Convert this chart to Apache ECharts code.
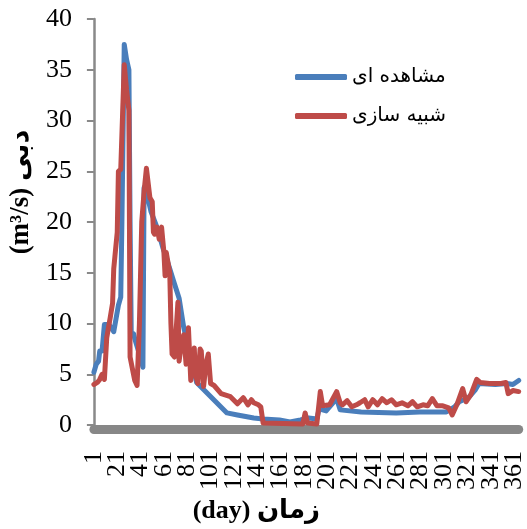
<!DOCTYPE html>
<html>
<head>
<meta charset="utf-8">
<script src="https://cdn.jsdelivr.net/npm/echarts@6/dist/echarts.min.js"></script>
<style>html,body{margin:0;padding:0;background:#fff;width:100%;height:100%;overflow:hidden}#c{width:100vw;height:100vh}</style>
</head>
<body>
<div id="c"></div>
<script>
// categories: days 1..365
const days = [];
for (let d = 1; d <= 365; d++) days.push(String(d));
// tick labels shown on the day axis
const dayLabels = ['1','21','41','61','81','101','121','141','161','181','201','221','241','261','281','301','321','341','361'];

const obsDays = [1,3,5,6,8,10,14,18,20,22,24,25,27,29,31,32,33,35,36,40,43,44,46,50,55,60,63,69,74,78,89,115,124,138,146,160,169,178,185,192,194,200,209,212,230,260,280,303,310,314,322,328,331,345,355,360,365];
const obsVals = [5.2,6.0,6.3,7.3,7.3,9.9,9.9,9.2,10.5,11.8,12.6,20,37.5,36,35.0,20,9.1,9.0,8.5,7,5.7,23.4,23,21,19.5,17.5,16.5,14.3,12.5,9.6,4.2,1.2,1.0,0.7,0.6,0.5,0.3,0.5,0.7,0.6,1.6,1.4,2.6,1.5,1.3,1.2,1.3,1.3,1.8,2.3,2.7,3.5,4.1,4.0,4.1,4.0,4.4];

// simulated (شبیه سازی)
const simDays = [1,4,6,8,10,12,15,17,18,19,21,22,24,27,29,31,32,36,38,40,42,44,46,49,51,52,53,55,57,59,61,62,63,66,67,68,70,73,74,76,78,80,82,84,87,88,90,92,93,95,97,99,101,104,110,118,124,129,133,136,138,142,144,146,180,182,184,192,195,197,203,209,212,214,218,222,226,229,233,236,240,244,248,252,256,260,265,270,274,278,283,287,291,295,300,305,308,312,317,320,324,329,332,340,350,354,356,360,365];
const simVals = [4.0,4.2,4.5,5.0,4.5,8.6,10.6,12,15.4,16.6,19,25,25.2,35.5,33,31,6.7,4.4,3.9,10,20,23,25.3,22.4,22,19,18.8,19.5,18.3,19.5,17,14.7,17,15,10,7,6.7,12.1,6.3,8,8.9,6,9.6,4.4,7.6,5,4.1,7.5,7.3,3.8,6,7.0,4.1,3.9,3.1,2.8,2.1,2.7,2.0,2.5,2.2,2.0,1.8,0.2,0.1,1.2,0.2,0.1,3.3,1.9,2.0,3.3,2.2,2.0,2.4,1.8,2.0,2.2,2.5,1.8,2.5,2.0,2.6,2.2,2.5,2.0,2.2,1.9,2.3,1.8,2.0,1.9,2.6,1.9,1.9,1.7,1.0,2.0,3.6,2.3,3.0,4.5,4.2,4.1,4.1,4.2,3.1,3.4,3.3];

// y axis ticks
const yTicks = {min: 0, max: 40, interval: 5};

const pair = (ds, vs) => ds.map((d, i) => [String(d), vs[i]]);

const chart = echarts.init(document.getElementById('c'));
const serif = "'Liberation Serif', 'DejaVu Sans', serif";
chart.setOption({
  animation: false,
  grid: {left: 91, right: 7, top: 19, bottom: 97, containLabel: false},
  legend: {
    orient: 'vertical', left: 290, top: 62, itemGap: 19,
    itemWidth: 52, itemHeight: 6, icon: 'roundRect',
    textStyle: {fontFamily: "'DejaVu Sans', sans-serif", fontSize: 20, color: '#000'},
    data: ['مشاهده ای', 'شبیه سازی']
  },
  xAxis: {
    type: 'category', data: days, boundaryGap: false, offset: 4,
    axisLine: {onZero: false, lineStyle: {color: '#878787', width: 9}},
    axisTick: {show: false},
    axisLabel: {interval: 0, rotate: 90, margin: 22,
                formatter: v => (dayLabels.indexOf(v) >= 0 ? v : ''),
                fontFamily: serif, fontSize: 26, color: '#000'},
    name: '(day) زمان', nameLocation: 'middle', nameGap: 66,
    nameTextStyle: {fontFamily: serif, fontSize: 26, fontWeight: 'bold', color: '#000', padding: [0, 100, 0, 0]}
  },
  yAxis: {
    type: 'value', min: yTicks.min, max: yTicks.max, interval: yTicks.interval,
    axisLine: {show: true, lineStyle: {color: '#898989', width: 2.5}},
    axisTick: {show: true, length: 7, lineStyle: {color: '#898989', width: 2}},
    splitLine: {show: false},
    axisLabel: {margin: 22, fontFamily: serif, fontSize: 26, color: '#000'},
    name: '(m³/s) دبی', nameLocation: 'middle', nameGap: 50, nameRotate: 90,
    nameTextStyle: {fontFamily: serif, fontSize: 27, fontWeight: 'bold', color: '#000', padding: [0, 0, 0, 60]}
  },
  series: [
    {name: 'مشاهده ای', type: 'line', data: pair(obsDays, obsVals), showSymbol: false, symbol: 'none',
     lineStyle: {color: '#4a7ebb', width: 5, cap: 'round', join: 'round'}, itemStyle: {color: '#4a7ebb'}},
    {name: 'شبیه سازی', type: 'line', data: pair(simDays, simVals), showSymbol: false, symbol: 'none',
     lineStyle: {color: '#be4b48', width: 5, cap: 'round', join: 'round'}, itemStyle: {color: '#be4b48'}}
  ]
});
</script>
</body>
</html>
